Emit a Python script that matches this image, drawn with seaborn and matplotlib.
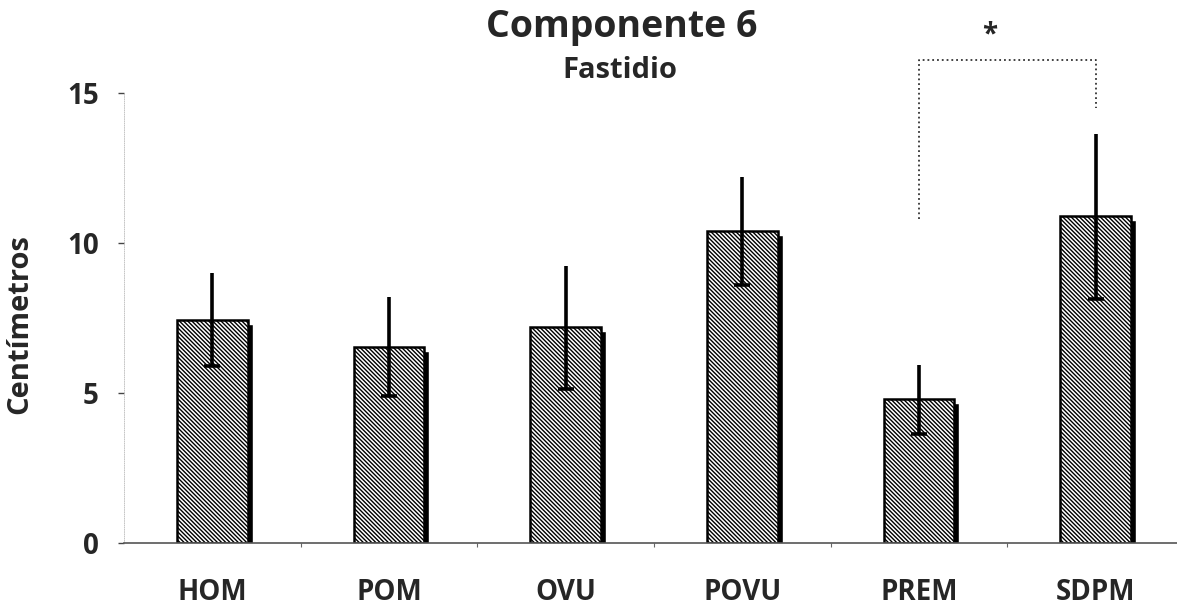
import matplotlib
matplotlib.use("Agg")
import matplotlib.pyplot as plt
from matplotlib.transforms import offset_copy
import seaborn as sns
import pandas as pd
import numpy as np

# Data
groups = ["HOM", "POM", "OVU", "POVU", "PREM", "SDPM"]
means = [7.45, 6.55, 7.2, 10.4, 4.8, 10.9]
errors = [1.55, 1.65, 2.05, 1.8, 1.15, 2.75]
y_ticks = [0, 5, 10, 15]
title = "Componente 6"
subtitle = "Fastidio"
y_label = "Centímetros"

sns.set_theme(style="white")
plt.rcParams["font.family"] = ["Open Sans", "DejaVu Sans"]
plt.rcParams["font.weight"] = "bold"
plt.rcParams["hatch.linewidth"] = 1.0
plt.rcParams["hatch.color"] = "black"

W, H = 1177, 611
fig = plt.figure(figsize=(W / 100, H / 100), dpi=100)
ax = fig.add_axes([124 / W, 1 - 543 / H, 1 - 124 / W, (543 - 93) / H])

df = pd.DataFrame({"grupo": groups, "media": means})
sns.barplot(data=df, x="grupo", y="media", ax=ax, width=0.4, color="white",
            saturation=1, edgecolor="black", linewidth=1.8,
            hatch="\\" * 8, errorbar=None, zorder=2)

x = np.arange(len(groups))
# drop shadow behind each bar
shadow = offset_copy(ax.transData, fig=fig, x=5, y=-4, units="dots")
ax.bar(x, means, width=0.4, color="black", transform=shadow, zorder=1)

# error bars: full line, cap at the lower end only
lower = np.array(means) - np.array(errors)
ax.errorbar(x, means, yerr=errors, fmt="none", ecolor="black",
            elinewidth=2.6, capsize=0, zorder=3)
ax.plot(x, lower, ls="none", marker="_", ms=11, mew=2.6, color="black", zorder=3)

ax.set_xlim(-0.5, 5.46)
ax.set_ylim(0, 15)
ax.set_yticks(y_ticks)
ax.set_xticks(np.arange(0.5, 5, 1), minor=True)
ax.set_xlabel("")
ax.set_ylabel(y_label, fontsize=21, fontweight="bold")
ax.yaxis.set_label_coords(-0.085, 0.487)

ax.tick_params(axis="y", left=True, length=4, width=1, color="#444",
               pad=14, labelsize=20)
ax.tick_params(axis="x", which="major", bottom=True, length=0, pad=25,
               labelsize=20)
ax.tick_params(axis="x", which="minor", bottom=True, length=3, width=0.8,
               color="#666")
for lbl in ax.get_xticklabels() + ax.get_yticklabels():
    lbl.set_fontweight("bold")

for side in ("top", "right"):
    ax.spines[side].set_visible(False)
ax.spines["bottom"].set_color("#555")
ax.spines["bottom"].set_linewidth(1.2)
ax.spines["left"].set_color("#bbbbbb")
ax.spines["left"].set_linewidth(0.6)
ax.spines["left"].set_linestyle(":")

# significance bracket between PREM and SDPM
ax.plot([4, 4, 5, 5], [10.8, 16.1, 16.1, 14.5], ls=":", color="#333",
        lw=1.3, clip_on=False, zorder=3)
ax.text(4.4, 16.95, "*", ha="center", va="center", fontsize=20,
        fontweight="bold", clip_on=False)

fig.text(622 / W, 1 - 37 / H, title, ha="center", va="baseline",
         fontsize=27, fontweight="bold")
fig.text(620 / W, 1 - 78 / H, subtitle, ha="center", va="baseline",
         fontsize=21, fontweight="bold")

fig.savefig("out.png", dpi=100)
